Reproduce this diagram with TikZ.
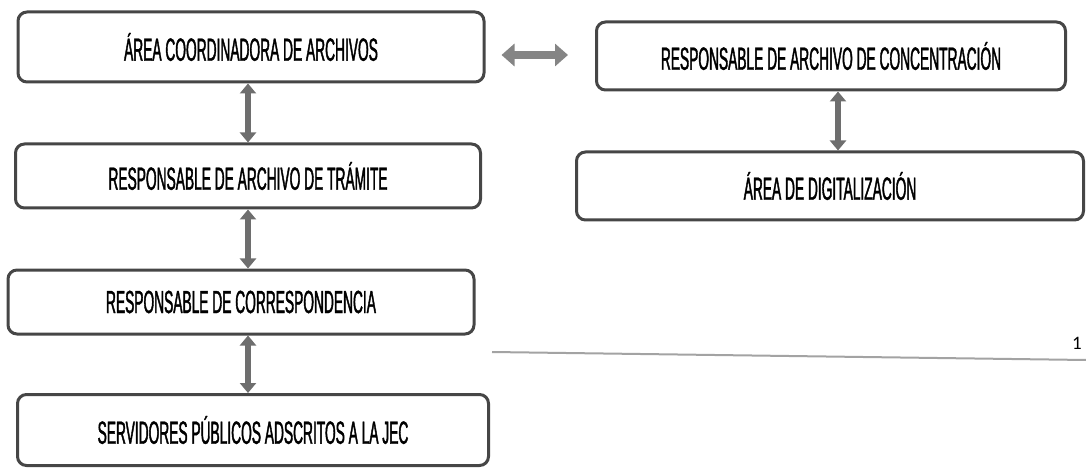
\documentclass[tikz,border=0pt]{standalone}
\usepackage{fontspec}
\setmainfont{Liberation Sans}[FakeStretch=0.43,FakeBold=1.2]
\newfontfamily\pagefont{Carlito}
\usetikzlibrary{arrows.meta}
\definecolor{boxline}{HTML}{464646}
\definecolor{linkgray}{HTML}{6E6E6E}
\definecolor{sidegray}{HTML}{858585}
\definecolor{rulegray}{HTML}{A3A3A3}
\begin{document}
\begin{tikzpicture}[x=1pt,y=-1pt,
  area/.style={draw=boxline,line width=3pt,rounded corners=9pt,fill=white,inner sep=0pt,font=\fontsize{32}{36}\selectfont},
  link/.style={draw=linkgray,line width=5.5pt,{Triangle[width=16pt,length=10pt]}-{Triangle[width=16pt,length=10pt]}},
  sidelink/.style={draw=sidegray,line width=8.5pt,{Triangle[width=22pt,length=13pt]}-{Triangle[width=22pt,length=13pt]}}]
\useasboundingbox (0,0) rectangle (1086,470);
\node[area,minimum width=466pt,minimum height=70pt] (coord) at (251,47) {ÁREA COORDINADORA DE ARCHIVOS};
\node[area,minimum width=465pt,minimum height=64pt] (tramite) at (248,176) {RESPONSABLE DE ARCHIVO DE TRÁMITE};
\node[area,minimum width=466pt,minimum height=64pt] (corresp) at (241,302) {RESPONSABLE DE CORRESPONDENCIA};
\node[area,minimum width=471pt,minimum height=71pt] (servidores) at (253,430) {SERVIDORES PÚBLICOS ADSCRITOS A LA JEC};
\node[area,minimum width=469pt,minimum height=68pt] (concent) at (831,56) {RESPONSABLE DE ARCHIVO DE CONCENTRACIÓN};
\node[area,minimum width=507pt,minimum height=68pt] (digital) at (830,186) {ÁREA DE DIGITALIZACIÓN};
\draw[link] (tramite.north |- coord.south) -- (tramite.north);
\draw[link] (tramite.south) -- (tramite.south |- corresp.north);
\draw[link] (tramite.south |- corresp.south) -- (tramite.south |- servidores.north);
\draw[link] ([xshift=7pt]concent.south) -- ([xshift=8pt]digital.north);
\draw[sidelink] ([shift={(16,8)}]coord.east) -- ([shift={(-27,-1)}]concent.west);
\draw[rulegray,line width=2pt] (492,352) -- (1086,360);
\node[font=\pagefont\fontsize{19}{22}\selectfont] (pagenum) at (1077,343) {1};
\end{tikzpicture}
\end{document}
